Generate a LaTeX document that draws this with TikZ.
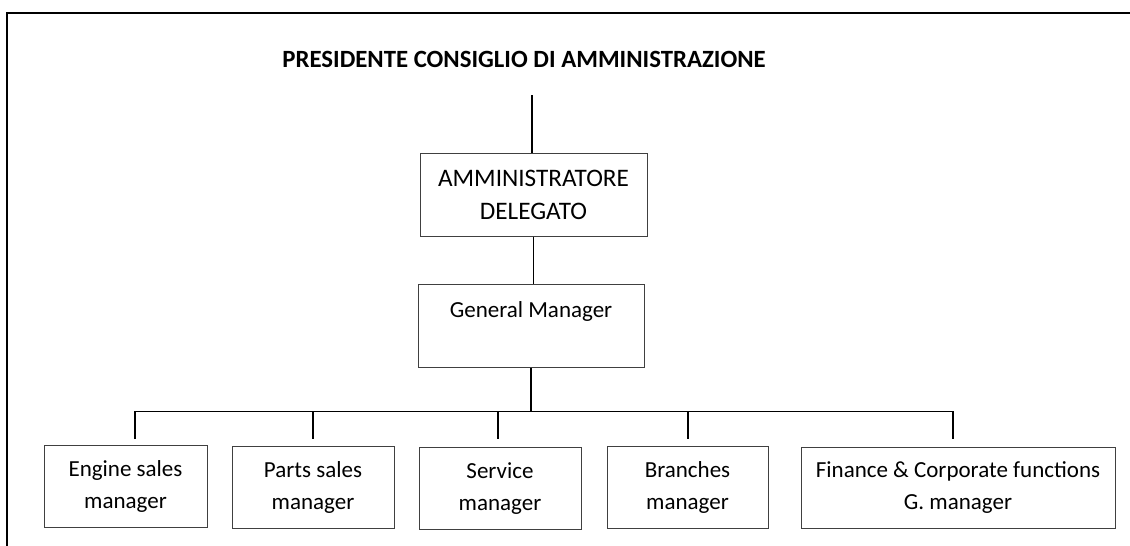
\documentclass[tikz,border=0pt]{standalone}
\usepackage{fontspec}
\setmainfont{Carlito}
\usepackage{tikz}

\tikzset{
  post/.style={draw=black!75, line width=1pt, inner sep=0pt, align=center,
    font=\fontsize{23}{32}\selectfont},
  link/.style={draw=black, line width=1.8pt},
}

\begin{document}
\begin{tikzpicture}[x=1pt,y=-1pt]
		\useasboundingbox (0,0) rectangle (1130,546);
		% frame
		\draw[black, line width=2pt] (7,546)--(7,13)--(1130,13);
		% top of the chart
		\node[inner sep=0pt, anchor=base, font=\fontsize{24.8}{28}\selectfont\bfseries] (pres) at (524,67) {PRESIDENTE CONSIGLIO DI AMMINISTRAZIONE};
		\coordinate (top) at (532,95);
		\node[post, minimum width=227pt, minimum height=83pt, font=\fontsize{25.2}{33}\selectfont] (ad) at (533.5,194.5) {AMMINISTRATORE\\DELEGATO};
		\node[post, minimum width=226pt, minimum height=83pt] (gm) at (531,325.5) {General Manager\\~};
		% managers
		\node[post, minimum width=163pt, minimum height=82pt] (eng) at (125.5,486.5) {Engine sales\\manager};
		\node[post, minimum width=162pt, minimum height=82pt] (parts) at (313,487.5) {Parts sales\\manager};
		\node[post, minimum width=162pt, minimum height=82pt] (serv) at (500,488.5) {Service\\manager};
		\node[post, minimum width=161pt, minimum height=82pt] (bran) at (687.5,487) {Branches\\manager};
		\node[post, minimum width=314pt, minimum height=81pt] (fin) at (958,487.5) {Finance \& Corporate functions\\G. manager};
		% bar and drops
		\coordinate (bar) at (532,411.5);
		\coordinate (d1) at (135,439);
		\coordinate (d2) at (313,439);
		\coordinate (d3) at (498,439);
		\coordinate (d4) at (688,439);
		\coordinate (d5) at (953,439);
		\draw[link] (top)--(top |- ad.north);
		\draw[link] (ad.south)--(ad.south |- gm.north);
		\draw[link] (gm.south)--(gm.south |- bar);
		\draw[link] (d1)--(d1 |- bar)--(d5 |- bar)--(d5);
		\draw[link] (d2 |- bar)--(d2);
		\draw[link] (d3 |- bar)--(d3);
		\draw[link] (d4 |- bar)--(d4);
	\end{tikzpicture}
\end{document}
